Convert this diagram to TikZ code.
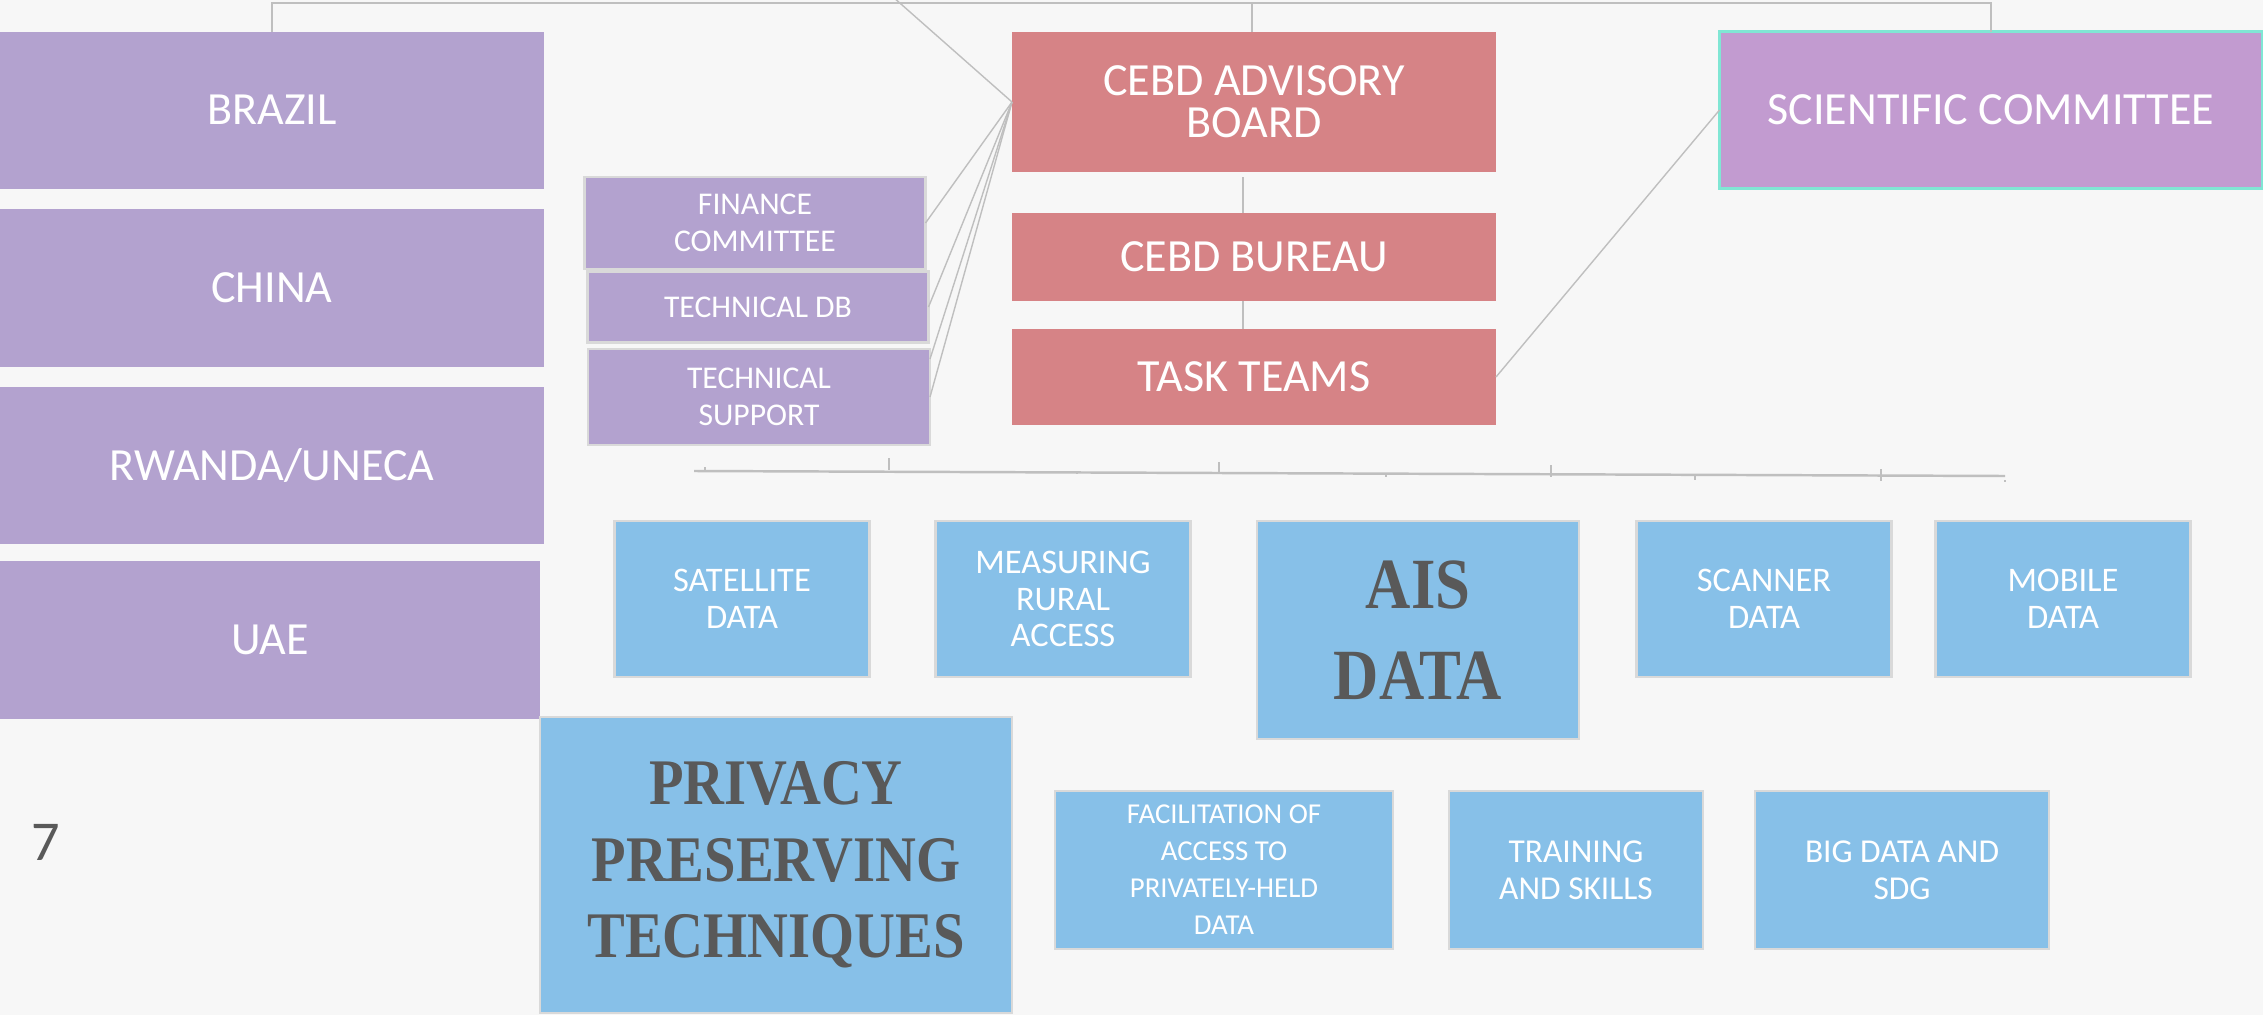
\documentclass[tikz,border=0pt]{standalone}
\usepackage{fontspec}
\setmainfont{Carlito}
\newfontfamily\headserif[FakeStretch=0.87]{Liberation Serif}
\usepackage{tikz}

\definecolor{bgc}{HTML}{F7F7F7}
\definecolor{lilac}{HTML}{B3A2CF}
\definecolor{rose}{HTML}{D68386}
\definecolor{orchid}{HTML}{C29BD0}
\definecolor{teal}{HTML}{80E6D4}
\definecolor{sky}{HTML}{87C0E8}
\definecolor{rim}{HTML}{D9D9D9}
\definecolor{ink}{HTML}{595959}
\definecolor{wire}{HTML}{BFBFBF}

\begin{document}
\begin{tikzpicture}[x=0.01cm,y=-0.01cm,
  wh/.style 2 args={minimum width=#1*0.01cm,minimum height=#2*0.01cm},
  box/.style={inner sep=0pt,outer sep=0pt,align=center,text=white},
  country/.style={box,fill=lilac,font=\fontsize{13.1}{10.5}\selectfont},
  board/.style={box,fill=rose,font=\fontsize{13.1}{12}\selectfont},
  committee/.style={box,fill=lilac,draw=rim,line width=0.7pt,font=\fontsize{9}{10.5}\selectfont},
  team/.style={box,fill=sky,draw=rim,line width=0.6pt,font=\fontsize{9.8}{10.5}\selectfont},
  subteam/.style={team,font=\fontsize{9.5}{10.5}\selectfont},
  bigteam/.style={box,fill=sky,draw=rim,line width=0.6pt,text=ink},
  wire/.style={draw=wire,line width=0.4pt}]

\fill[bgc] (0,0) rectangle (2263,1015);
\useasboundingbox (0,0) rectangle (2263,1015);

% countries
\node[country,wh={544}{157}] (brazil) at (272,110) {BRAZIL};
\node[country,wh={544}{158}] (china) at (272,288) {CHINA};
\node[country,wh={544}{157}] (rwanda) at (272,465) {RWANDA/UNECA};
\node[country,wh={540}{158}] (uae) at (270,640) {UAE};

% board
\node[board,wh={484}{140}] (adv) at (1254,102) {CEBD ADVISORY\\BOARD};
\node[board,wh={484}{88}] (bureau) at (1254,257) {CEBD BUREAU};
\node[board,wh={484}{96}] (tasks) at (1254,377) {TASK TEAMS};
\node[box,fill=orchid,draw=teal,line width=0.6pt,wh={543}{157},
      font=\fontsize{13.1}{10.5}\selectfont] (sci) at (1991,110) {SCIENTIFIC COMMITTEE};

\node[committee,wh={341}{92}] (finance) at (755,223) {FINANCE\\COMMITTEE};
\node[committee,wh={341}{71}] (techdb) at (758,307) {TECHNICAL DB};
\node[committee,wh={342}{96}] (techsup) at (759,397) {TECHNICAL\\SUPPORT};

% task teams
\node[team,wh={255}{156}] (sat) at (742,599) {SATELLITE\\DATA};
\node[team,wh={255}{156}] (rural) at (1063,599) {MEASURING\\RURAL\\ACCESS};
\node[bigteam,wh={322}{218},font=\headserif\bfseries\fontsize{20.5}{25.9}\selectfont] (ais) at (1418,630) {AIS\\DATA};
\node[team,wh={255}{156}] (scan) at (1764,599) {SCANNER\\DATA};
\node[team,wh={255}{156}] (mob) at (2063,599) {MOBILE\\DATA};

\node[bigteam,wh={472}{296},font=\headserif\bfseries\fontsize{18.5}{21.8}\selectfont] (priv) at (776,865) {PRIVACY\\PRESERVING\\TECHNIQUES};
\node[subteam,wh={338}{158},font=\fontsize{8.2}{10.5}\selectfont] (access) at (1224,870) {FACILITATION OF\\ACCESS TO\\PRIVATELY-HELD\\DATA};
\node[subteam,wh={254}{158}] (skills) at (1576,870) {TRAINING\\AND SKILLS};
\node[subteam,wh={294}{158}] (sdg) at (1902,870) {BIG DATA AND\\SDG};

\node[text=ink,font=\fontsize{16}{18}\selectfont] (page) at (46,842) {7};

% connectors
\coordinate (top) at (0,3);
\coordinate (up) at (893,-3);
\draw[wire] (brazil.north) |- (top -| sci.north) -- (sci.north);
\draw[wire] ([xshift=-0.02cm]adv.north) -- ([xshift=-0.02cm]adv.north |- top);
\draw[wire] (adv.west) -- (up);
\draw[wire] (adv.west) -- (finance.east);
\draw[wire] (adv.west) -- (techdb.east);
\draw[wire] (adv.west) -- ([yshift=-0.1cm]techsup.north east);
\draw[wire] (adv.west) -- (techsup.east);
\draw[wire] ([xshift=-0.11cm]adv.south) ++(0,5) -- ([xshift=-0.11cm]bureau.north);
\draw[wire] ([xshift=-0.11cm]bureau.south) -- ([xshift=-0.11cm]tasks.north);
\draw[wire] (tasks.east) -- (sci.west);

% bar with ticks
\coordinate (barl) at (694,471);
\coordinate (barr) at (2005,476);
\draw[draw=wire,line width=0.7pt] (barl) -- (barr);
\foreach \tx/\ty/\tl in {705/469/2, 889/464/6, 1077/473/1, 1219/468/6, 1386/476/1, 1551/471/6, 1695/478/2, 1881/475/6, 2005/481/1}
  \draw[wire] (\tx,\ty-\tl) -- (\tx,\ty+\tl);

\end{tikzpicture}
\end{document}
